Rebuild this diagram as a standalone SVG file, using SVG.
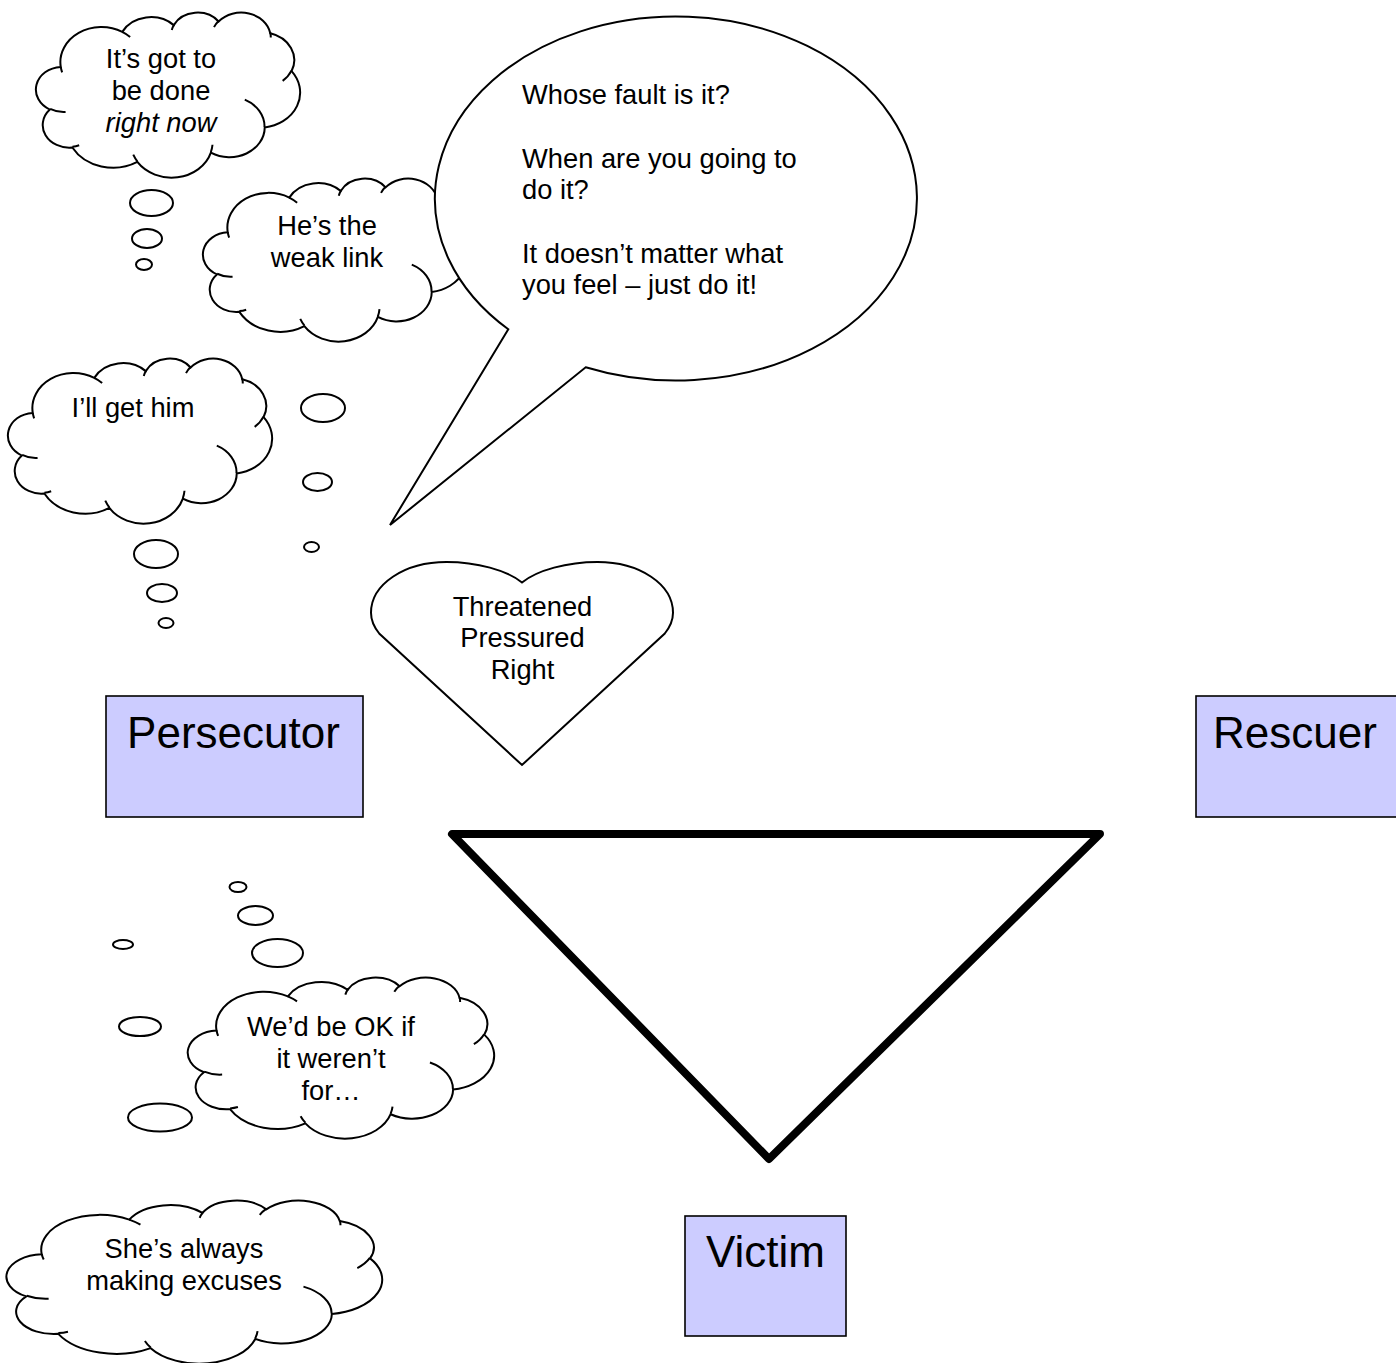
<svg xmlns="http://www.w3.org/2000/svg" xmlns:xlink="http://www.w3.org/1999/xlink" width="1396" height="1363" viewBox="0 0 1396 1363">
  <style>
    .t { font-family: "Liberation Sans", Arial, sans-serif; font-size: 27.3px; fill: #000; }
    .mid { text-anchor: middle; }
    .role { font-family: "Liberation Sans", Arial, sans-serif; font-size: 44px; fill: #000; text-anchor: middle; }
    .box { fill: #CCCCFF; stroke: #000; stroke-width: 1.6; }
    .shape { fill: #fff; stroke: #000; stroke-width: 2; stroke-linejoin: miter; }
    .puff { fill: #fff; stroke: #000; stroke-width: 2; }
    .cloud-body { fill: #fff; stroke: #000; stroke-width: 2; }
    .cloud-hook { fill: none; stroke: #000; stroke-width: 2; }
    .tri { fill: none; stroke: #000; stroke-width: 8; stroke-linejoin: round; stroke-linecap: round; }
  </style>
  <defs>
    <!-- cloud outline in a 43200 x 43200 frame; placed with non-uniform scaling -->
    <g id="cloud">
      <path class="cloud-body" vector-effect="non-scaling-stroke" d="M3900,14370 A6753,9190 0 0 1 14007,5204 A5333,7267 0 0 1 22460,3436 A4365,5945 0 0 1 29836,2485 A4857,6595 0 0 1 38320,5582 A5333,7273 0 0 1 41821,15466 A6775,9220 0 0 1 37408,30210 A5785,7867 0 0 1 28560,36820 A6752,9215 0 0 1 16484,39269 A7720,10543 0 0 1 5806,35474 A4360,5918 0 0 1 2117,25550 A4345,5945 0 0 1 3900,14370 Z"/>
      <path class="cloud-hook" vector-effect="non-scaling-stroke" d="M4693,26177 A4345,5945 0 0 1 2159,25380 M6928,34899 A4360,5918 0 0 1 5820,35280 M16478,39090 A6752,9215 0 0 1 15811,37352 M28827,34751 A6752,9215 0 0 1 28560,36661 M34129,22954 A5785,7867 0 0 1 37380,30089 M41798,15354 A5333,7273 0 0 1 40349,18032 M38324,5426 A4857,6595 0 0 1 38400,6690 M29078,3952 A4857,6595 0 0 1 29821,2339 M22141,4720 A4365,5945 0 0 1 22500,3329 M14000,5192 A6753,9190 0 0 1 15299,6539 M4127,15789 A6753,9190 0 0 1 3900,14370"/>
    </g>
  </defs>

  <rect x="0" y="0" width="1396" height="1363" fill="#fff"/>

  <!-- drama triangle -->
  <g id="connectors">
    <polygon class="tri" points="452,834 1100,834 769,1159"/>
  </g>

  <!-- thought: it's got to be done right now -->
  <g id="thought-right-now">
    <use xlink:href="#cloud" href="#cloud" transform="translate(37,12) scale(0.0060880,0.0038194)"/>
    <ellipse class="puff" cx="151.5" cy="203" rx="21.5" ry="13"/>
    <ellipse class="puff" cx="147" cy="238.5" rx="15" ry="9.5"/>
    <ellipse class="puff" cx="144" cy="264.5" rx="8" ry="5.5"/>
    <text class="t mid" x="161" y="68">It’s got to</text>
    <text class="t mid" x="161" y="100">be done</text>
    <text class="t mid" x="161" y="132" font-style="italic">right now</text>
  </g>

  <!-- thought: he's the weak link -->
  <g id="thought-weak-link">
    <use xlink:href="#cloud" href="#cloud" transform="translate(204,178) scale(0.0060880,0.0037731)"/>
    <ellipse class="puff" cx="323" cy="408" rx="22" ry="14"/>
    <ellipse class="puff" cx="317.5" cy="482" rx="14.5" ry="9"/>
    <ellipse class="puff" cx="311.5" cy="547" rx="7.5" ry="5"/>
    <text class="t mid" x="327" y="235">He’s the</text>
    <text class="t mid" x="327" y="267">weak link</text>
  </g>

  <!-- thought: I'll get him -->
  <g id="thought-get-him">
    <use xlink:href="#cloud" href="#cloud" transform="translate(9,358) scale(0.0060880,0.0038194)"/>
    <ellipse class="puff" cx="156" cy="554" rx="22" ry="14"/>
    <ellipse class="puff" cx="162" cy="593" rx="15" ry="9"/>
    <ellipse class="puff" cx="166" cy="623" rx="7.5" ry="5"/>
    <text class="t mid" x="133" y="417">I’ll get him</text>
  </g>

  <!-- speech bubble -->
  <g id="speech">
    <path class="shape" d="M508.3,329.3 L390,525 L585.7,367.3 A241,182 0 1 0 508.3,329.3 Z"/>
    <text class="t" x="522" y="104">Whose fault is it?</text>
    <text class="t" x="522" y="167.5">When are you going to</text>
    <text class="t" x="522" y="199">do it?</text>
    <text class="t" x="522" y="262.5">It doesn’t matter what</text>
    <text class="t" x="522" y="294">you feel – just do it!</text>
  </g>

  <!-- feelings heart -->
  <g id="heart">
    <path class="shape" d="M522,582.5 C506.9,570.1 476.7,562 446.5,562 C404.2,562 371,584.3 371,612.75 C371,620.9 374,627 379.2,633.5 L522,765 L664.8,633.5 C670,627 673,620.9 673,612.75 C673,584.3 639.8,562 597.5,562 C567.3,562 537.1,570.1 522,582.5 Z"/>
    <text class="t mid" x="522.5" y="615.5">Threatened</text>
    <text class="t mid" x="522.5" y="647">Pressured</text>
    <text class="t mid" x="522.5" y="678.5">Right</text>
  </g>

  <!-- role boxes -->
  <g id="persecutor">
    <rect class="box" x="106" y="696" width="257" height="121"/>
    <text class="role" x="233.5" y="748">Persecutor</text>
  </g>
  <g id="rescuer">
    <rect class="box" x="1196" y="696" width="202" height="121"/>
    <text class="role" x="1295" y="748">Rescuer</text>
  </g>
  <g id="victim">
    <rect class="box" x="685" y="1216" width="161" height="120"/>
    <text class="role" x="765.5" y="1267">Victim</text>
  </g>

  <!-- thought: we'd be OK if it weren't for... -->
  <g id="thought-weren-t-for">
    <ellipse class="puff" cx="238" cy="887" rx="8.5" ry="5"/>
    <ellipse class="puff" cx="255.5" cy="915.5" rx="17.5" ry="9.5"/>
    <ellipse class="puff" cx="277.5" cy="953" rx="25.5" ry="14"/>
    <use xlink:href="#cloud" href="#cloud" transform="translate(189,977) scale(0.0070602,0.0037269)"/>
    <text class="t mid" x="331" y="1036">We’d be OK if</text>
    <text class="t mid" x="331" y="1068">it weren’t</text>
    <text class="t mid" x="331" y="1099.5">for…</text>
  </g>

  <!-- thought: she's always making excuses -->
  <g id="thought-excuses">
    <ellipse class="puff" cx="123" cy="944.5" rx="10" ry="4.5"/>
    <ellipse class="puff" cx="140" cy="1026.5" rx="21" ry="9.5"/>
    <ellipse class="puff" cx="160" cy="1117.5" rx="32" ry="14"/>
    <use xlink:href="#cloud" href="#cloud" transform="translate(8,1200) scale(0.0086574,0.0037731)"/>
    <text class="t mid" x="184" y="1258">She’s always</text>
    <text class="t mid" x="184" y="1290">making excuses</text>
  </g>
</svg>
